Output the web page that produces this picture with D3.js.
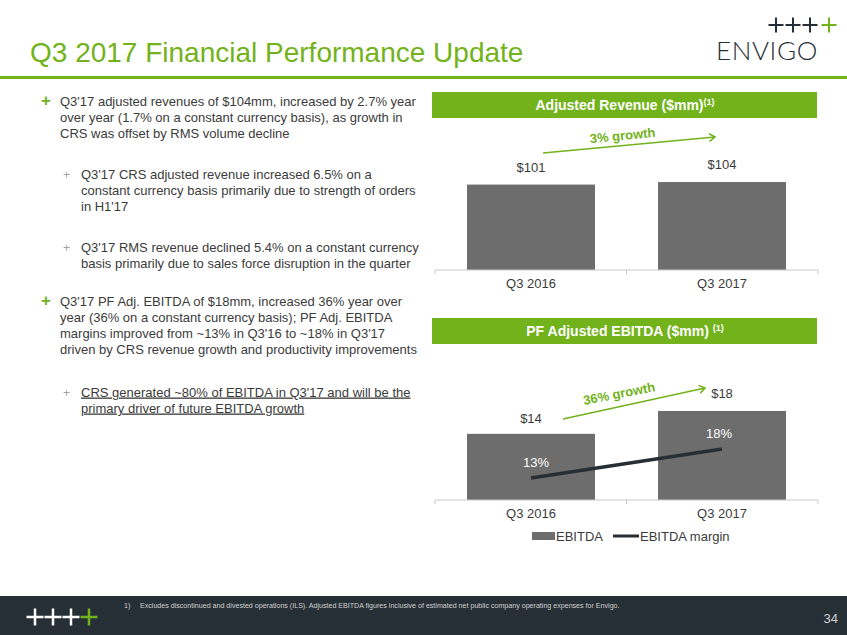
<!DOCTYPE html>
<html><head><meta charset="utf-8">
<script src="https://cdn.jsdelivr.net/npm/d3@7"></script>
<style>body{margin:0;background:#fff}svg{display:block}</style>
</head><body>
<script>
const categories = ["Q3 2016", "Q3 2017"];
const revenue = [101, 104];
const ebitda = [13.6, 18.3];
const margin = [13, 18];
const revenueGrowth = "3% growth";
const ebitdaGrowth = "36% growth";
const legendLabels = ["EBITDA", "EBITDA margin"];

const GREEN = "#72b21b", BAR = "#6d6d6d", TXT = "#3b3b3b", DARK = "#262f36";
const W = 847, H = 635;
const svg = d3.select("body").append("svg").attr("width", W).attr("height", H)
  .style("font-family", "'Liberation Sans', Arial, sans-serif");

function plus(cx, cy, r, col, sw) {
  svg.append("path").attr("d", `M${cx - r},${cy}H${cx + r}M${cx},${cy - r}V${cy + r}`)
    .attr("stroke", col).attr("stroke-width", sw).attr("fill", "none");
}

// header
svg.append("text").attr("x", 30).attr("y", 62).attr("fill", GREEN).attr("font-size", 28).text("Q3 2017 Financial Performance Update");
svg.append("rect").attr("x", 0).attr("y", 76).attr("width", W).attr("height", 3).attr("fill", GREEN);
[776, 793, 810].forEach(cx => plus(cx, 25, 7.5, DARK, 2));
plus(829, 25, 7.5, GREEN, 2);
svg.append("text").attr("x", 716).attr("y", 60).attr("fill", DARK).attr("font-size", 26).attr("font-family", "Lato, sans-serif").attr("font-weight", 300).attr("letter-spacing", 0.6).text("ENVIGO");

// bullets
const bullets = [
  {lvl:0, y:101, lines:["Q3'17 adjusted revenues of $104mm, increased by 2.7% year","over year (1.7% on a constant currency basis), as growth in","CRS was offset by RMS volume decline"]},
  {lvl:1, y:174, lines:["Q3'17 CRS adjusted revenue increased 6.5% on a","constant currency basis primarily due to strength of orders","in H1'17"]},
  {lvl:1, y:247, lines:["Q3'17 RMS revenue declined 5.4% on a constant currency","basis primarily due to sales force disruption in the quarter"]},
  {lvl:0, y:301, lines:["Q3'17 PF Adj. EBITDA of $18mm, increased 36% year over","year (36% on a constant currency basis); PF Adj. EBITDA","margins improved from ~13% in Q3'16 to ~18% in Q3'17","driven by CRS revenue growth and productivity improvements"]},
  {lvl:1, y:392, underline:true, lines:["CRS generated ~80% of EBITDA in Q3'17 and will be the","primary driver of future EBITDA growth"]}
];
bullets.forEach(b => {
  const bx = b.lvl ? 63 : 41, tx = b.lvl ? 81 : 60;
  svg.append("text").attr("x", bx).attr("y", b.y + 5).attr("fill", b.lvl ? "#a0a0a0" : GREEN)
    .attr("font-size", b.lvl ? 12 : 17).attr("font-weight", b.lvl ? 400 : 700).text("+");
  b.lines.forEach((l, i) => {
    svg.append("text").attr("x", tx).attr("y", b.y + 4.5 + i * 16).attr("fill", TXT).attr("font-size", 13)
      .attr("text-decoration", b.underline ? "underline" : null).text(l);
  });
});

// panel headers
function panelHeader(y, title, sup) {
  svg.append("rect").attr("x", 432).attr("y", y).attr("width", 385).attr("height", 26).attr("fill", GREEN);
  const t = svg.append("text").attr("x", 625).attr("y", y + 18).attr("text-anchor", "middle").attr("fill", "#fff")
    .attr("font-size", 14).attr("font-weight", 700).text(title);
  t.append("tspan").attr("font-size", 9).attr("dy", -5).text(sup);
}
panelHeader(92, "Adjusted Revenue ($mm)", "(1)");
panelHeader(318, "PF Adjusted EBITDA ($mm) ", "(1)");

const x = d3.scaleBand().domain(categories).range([435, 818]).paddingInner(0.33).paddingOuter(0.1675);

function axis(y0) {
  const g = svg.append("g").attr("transform", `translate(0,${y0})`)
    .call(d3.axisBottom(x).tickSize(0).tickPadding(9));
  g.select(".domain").attr("stroke", "#c8c8c8").attr("d", "M435,0H818");
  g.selectAll(".tick text").attr("font-size", 13).attr("fill", TXT).attr("font-family", "'Liberation Sans', Arial, sans-serif");
  [435, 626.5, 818].forEach(px => g.append("line").attr("x1", px).attr("x2", px).attr("y1", 0).attr("y2", 4).attr("stroke", "#c8c8c8"));
}

function arrow(x1, y1, x2, y2) {
  svg.append("line").attr("x1", x1).attr("y1", y1).attr("x2", x2).attr("y2", y2).attr("stroke", GREEN).attr("stroke-width", 1.6);
  const a = Math.atan2(y2 - y1, x2 - x1), L = 7, s = 0.6;
  svg.append("path").attr("fill", "none").attr("stroke", GREEN).attr("stroke-width", 1.6)
    .attr("d", `M${x2 - L * Math.cos(a - s)},${y2 - L * Math.sin(a - s)}L${x2},${y2}L${x2 - L * Math.cos(a + s)},${y2 - L * Math.sin(a + s)}`);
}

// revenue chart
const yR = d3.scaleLinear().domain([0, 120]).range([270, 168.5]);
svg.selectAll(".rbar").data(revenue).join("rect").attr("x", (d, i) => x(categories[i])).attr("width", x.bandwidth())
  .attr("y", d => yR(d)).attr("height", d => yR(0) - yR(d)).attr("fill", BAR);
svg.selectAll(".rlab").data(revenue).join("text").attr("x", (d, i) => x(categories[i]) + x.bandwidth() / 2)
  .attr("y", d => yR(d) - 13).attr("text-anchor", "middle").attr("font-size", 13).attr("fill", TXT)
  .text(d => "$" + d3.format(".0f")(d));
axis(270);
arrow(543, 153, 715, 137);
svg.append("text").attr("transform", "translate(623,140) rotate(-5.5)").attr("text-anchor", "middle")
  .attr("fill", GREEN).attr("font-size", 13).attr("font-weight", 700).text(revenueGrowth);

// EBITDA chart
const yE = d3.scaleLinear().domain([0, 20]).range([500, 402.7]);
const yM = d3.scaleLinear().domain([9.2, 20]).range([500, 437.4]);
svg.selectAll(".ebar").data(ebitda).join("rect").attr("x", (d, i) => x(categories[i])).attr("width", x.bandwidth())
  .attr("y", d => yE(d)).attr("height", d => yE(0) - yE(d)).attr("fill", BAR);
svg.selectAll(".elab").data(ebitda).join("text").attr("x", (d, i) => x(categories[i]) + x.bandwidth() / 2)
  .attr("y", (d, i) => yE(d) - (i ? 13 : 11)).attr("text-anchor", "middle").attr("font-size", 13).attr("fill", TXT)
  .text(d => "$" + d3.format(".0f")(d));
axis(500);
const line = d3.line().x((d, i) => x(categories[i]) + x.bandwidth() / 2).y(d => yM(d));
svg.append("path").datum(margin).attr("d", line).attr("fill", "none").attr("stroke", DARK).attr("stroke-width", 3.5);
svg.selectAll(".mlab").data(margin).join("text").attr("x", (d, i) => x(categories[i]) + x.bandwidth() / 2 + (i ? -3 : 5))
  .attr("y", d => yM(d) - 11).attr("text-anchor", "middle").attr("font-size", 13).attr("fill", "#fff").text(d => d + "%");
arrow(563, 419, 705, 388);
svg.append("text").attr("transform", "translate(620,398) rotate(-11)").attr("text-anchor", "middle")
  .attr("fill", GREEN).attr("font-size", 13).attr("font-weight", 700).text(ebitdaGrowth);

// legend
svg.append("rect").attr("x", 532).attr("y", 532).attr("width", 23).attr("height", 8).attr("fill", BAR);
svg.append("text").attr("x", 556).attr("y", 541).attr("font-size", 13).attr("fill", TXT).text(legendLabels[0]);
svg.append("line").attr("x1", 613).attr("x2", 639).attr("y1", 536).attr("y2", 536).attr("stroke", DARK).attr("stroke-width", 3);
svg.append("text").attr("x", 640).attr("y", 541).attr("font-size", 13).attr("fill", TXT).text(legendLabels[1]);

// footer
svg.append("rect").attr("x", 0).attr("y", 596).attr("width", W).attr("height", 39).attr("fill", DARK);
[35, 53, 71].forEach(cx => plus(cx, 617, 8.5, "#fff", 2.5));
plus(89, 617, 8.5, GREEN, 2.5);
svg.append("text").attr("x", 124).attr("y", 608).attr("fill", "#d0d0d0").attr("font-size", 7.1).text("1)");
svg.append("text").attr("x", 140).attr("y", 608).attr("fill", "#d0d0d0").attr("font-size", 7.1)
  .text("Excludes discontinued and divested operations (ILS). Adjusted EBITDA figures inclusive of estimated net public company operating expenses for Envigo.");
svg.append("text").attr("x", 838).attr("y", 623).attr("text-anchor", "end").attr("fill", "#d0d0d0").attr("font-size", 13).text("34");
</script>
</body></html>
